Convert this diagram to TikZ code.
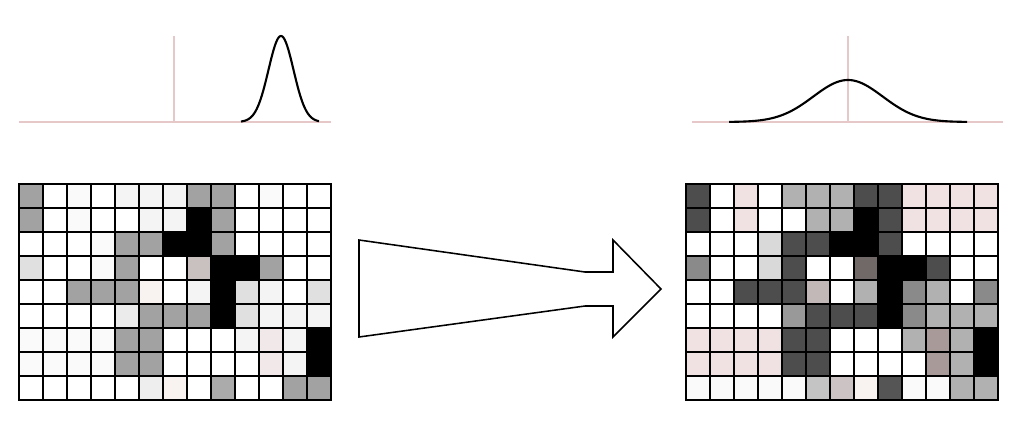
\documentclass[tikz,border=0pt]{standalone}

% cell shades
\definecolor{W}{HTML}{FFFFFF}
\definecolor{O}{HTML}{FAFAFA}
\definecolor{L}{HTML}{F4F4F4}
\definecolor{E}{HTML}{E0E0E0}
\definecolor{F}{HTML}{EBEBEB}
\definecolor{G}{HTML}{A2A2A2}
\definecolor{K}{HTML}{000000}
\definecolor{R}{HTML}{C9C0C0}
\definecolor{Q}{HTML}{F8F2F1}
\definecolor{C}{HTML}{F1E9E9}
\definecolor{Y}{HTML}{EEEEEE}
\definecolor{Z}{HTML}{ABABAB}
\definecolor{D}{HTML}{4D4D4D}
\definecolor{H}{HTML}{B1B1B1}
\definecolor{P}{HTML}{F0E2E2}
\definecolor{S}{HTML}{D9D9D9}
\definecolor{M}{HTML}{8A8A8A}
\definecolor{N}{HTML}{999999}
\definecolor{B}{HTML}{706967}
\definecolor{T}{HTML}{C2B8B8}
\definecolor{U}{HTML}{A89A99}
\definecolor{V}{HTML}{CCC4C4}
\definecolor{X}{HTML}{555555}
\definecolor{J}{HTML}{C4C4C4}
\definecolor{axispink}{HTML}{E6C8C8}

\begin{document}
\begin{tikzpicture}[
  x=0.025cm, y=-0.025cm,
  cell/.style={draw=black, line width=1.1pt, fill=#1},
  axisline/.style={draw=axispink, line width=1.2pt},
  curve/.style={black, line width=1.5pt, line join=round},
  bigarrow/.style={draw=black, line width=1.1pt, fill=white, line join=miter}
]
\useasboundingbox (0,0) rectangle (1024,428);

% Narrow distribution (before)
\draw[axisline] (19,122) -- (331,122);
\draw[axisline] (174,36) -- (174,122);
\draw[curve] plot[domain=241:319, samples=90]
  (\x, {122-86*exp(-((\x-281)^2)/(2*12.5^2))});

% Wide distribution (after)
\draw[axisline] (692,122) -- (1003,122);
\draw[axisline] (848,36) -- (848,122);
\draw[curve] plot[domain=729:967, samples=90]
  (\x, {122-42*exp(-((\x-848)^2)/(2*34.7^2))});

% Image before
\foreach \row [count=\r from 0] in {
  {G,W,O,W,L,L,L,G,G,W,O,W,W},
  {G,W,O,W,W,L,L,K,G,W,W,W,W},
  {W,W,W,O,G,G,K,K,G,W,W,W,W},
  {E,W,W,O,G,W,W,R,K,K,G,W,W},
  {W,W,G,G,G,Q,W,L,K,E,L,W,E},
  {W,W,W,W,F,G,G,G,K,E,L,L,L},
  {O,O,O,O,G,G,W,W,W,L,C,L,K},
  {O,O,O,O,G,G,W,W,W,W,C,L,K},
  {W,W,W,W,W,Y,Q,W,Z,W,W,G,G}} {
  \foreach \c [count=\i from 0] in \row
    \filldraw[cell=\c] (19+24*\i, 184+24*\r) rectangle ++(24,24);
}

% Image after
\foreach \row [count=\r from 0] in {
  {D,W,P,W,H,H,H,D,D,P,P,P,P},
  {D,W,P,W,W,H,H,K,D,P,P,P,P},
  {W,W,W,S,D,D,K,K,D,W,W,W,W},
  {M,W,W,S,D,W,W,B,K,K,D,W,W},
  {W,W,D,D,D,T,W,H,K,M,H,W,M},
  {W,W,W,W,N,D,D,D,K,M,H,H,H},
  {P,P,P,P,D,D,W,W,W,H,U,H,K},
  {P,P,P,P,D,D,W,W,W,W,U,H,K},
  {O,O,O,O,O,J,V,Q,X,O,O,H,H}} {
  \foreach \c [count=\i from 0] in \row
    \filldraw[cell=\c] (686+24*\i, 184+24*\r) rectangle ++(24,24);
}

% Big arrow
\draw[bigarrow] (359,240) -- (585,272) -- (613,272) -- (613,240)
  -- (661,289) -- (613,337) -- (613,306) -- (585,306) -- (359,337) -- cycle;

\end{tikzpicture}
\end{document}
